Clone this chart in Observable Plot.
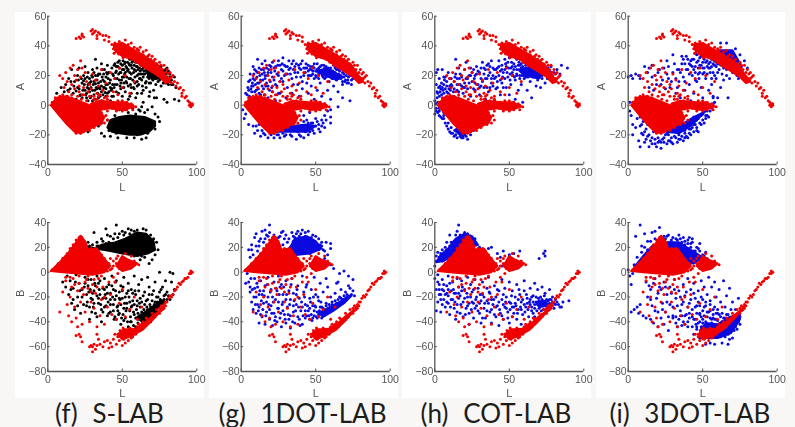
<!DOCTYPE html>
<html><head><meta charset="utf-8">
<script src="https://cdn.jsdelivr.net/npm/d3@7"></script>
<script src="https://cdn.jsdelivr.net/npm/@observablehq/plot@0.6"></script>
<style>
html,body{margin:0;padding:0;background:#f8f7f5;width:795px;height:427px;overflow:hidden}
.p{position:absolute;background:#fff;width:189px;top:12px;height:386px}
svg{position:absolute;background:transparent!important;filter:blur(.3px)}
.c{position:absolute;top:400px;height:27px;font:26px/27px Lato,sans-serif;word-spacing:8px;color:#1c1c1c;white-space:pre;transform:translateX(-50%)}
</style></head><body>
<div id="root"></div>
<script>
// Readings of the reference, flat lists of L,value pairs.
const redAdots=[19,45,21,46,22,45,23,47,23,48,24,46,29,50,30,51,31,49,30,48,32,50,33,47,34,49,33,45,35,48,37,47,38,44,39,47,41,46,41,43,43,41,44,38,45,42,46,36,47,40,48,43,49,35,50,41,52,44,53,33,54,41,56,42,57,31,58,39,60,38,62,39,61,30,63,28,64,36,66,37,67,27,68,34,70,33,71,25,72,31,73,23,75,29,76,27,77,21,78,27,79,19,80,24,81,18,82,22,83,15,84,20,85,16,86,13,87,15,88,11,89,12,90,8,90,6,91,10,92,5,93,6,94,3,95,2,96,1,97,0,96,-1,97,1,95,0,
8,20,10,18,11,12,12,22,13,16,14,9,15,25,16,14,16,7,17,27,18,20,18,11,19,17,20,24,20,6,21,13,21,9,22,30,22,19,23,25,24,12,24,7,25,22,26,16,27,9,28,14,29,11,30,21,31,6,32,17,33,8,34,13,35,7,36,24,37,10,38,5,39,15,40,6,42,22,44,9,45,18,47,7,48,25,50,12,52,20,55,8,58,16,
3,2,5,5,8,6,10,7,13,6,16,5,19,3,22,-19,19,-19,24,-18,28,-17,31,-15,35,-13,38,-12,40,-10,39,-7,36,-5,34,-1,30,1,33,4,37,3,40,4,44,2,47,3,50,3,53,2,56,1,59,-1,57,-3,53,-3,50,-4,46,-4,43,-2,40,-4,35,-8,
44.5,35,46.5,39,47.5,34.5,48.5,37,49.5,41.5,50.5,32,51,38.5,52,35.5,53,39,54.5,36,55,33,56,37.5,57,34,58,36.5,59,33,59.5,29,60,35,61,37,62,33,62.5,27,63,31,64,34,64.5,29,65,32,66,30,66.5,25,67,33,68,29,69,31,69.5,24,70,28,71,30,72,26,73,28,74,25,74.5,21,75,24,76,22,77,24,78,18,79,22,80,16,81,21,82,18,83,19,
6.5,-3,9,2,11,-5,13.5,2,15,-9,17.5,1,20,-3,22.5,4,26,-12,29,-3,31.5,-7,26,3,28,6,23,7,31,4,34,6,38,0,41,2,44,-1,46,1,49,-1,51,1,52,-2,55,-1,57,0];
const redAblobs=[[2,0,6,5,12,6,18,4,23,2,28,0,33,-2,38,-8,36,-12,30,-15,22,-19,18,-18,12,-12,7,-6],[29,1,35,3,45,2,52,2,58,-1,52,-3,46,-3,42,-2,36,-3,31,-6],[44,41,50,42,55,39,62,35,68,31,74,27,78,21,82,16,79,15,75,19,69,23,64,26,57,31,50,33,45,37]];
const redBdots=[97,0,96,-1,95,-1,96,1,94,-4,93,-5,92,-5,91,-7,90,-8,89,-10,88,-9,87,-12,86,-14,85,-15,84,-18,83,-20,82,-19,81,-21,80,-24,79,-27,78,-26,77,-28,76,-31,75,-29,74,-33,73,-30,72,-36,70,-36,68,-40,66,-37,65,-44,63,-42,62,-47,60,-44,59,-50,57,-52,55,-45,54,-55,52,-57,51,-48,50,-59,48,-55,47,-52,46,-58,45,-50,44,-54,43,-60,42,-57,41,-61,40,-55,38,-56,37,-60,35,-58,34,-54,33,-59,32,-62,31,-58,30,-64,30,-60,29,-59,28,-60,33,-50,23,-56,22,-52,21,-50,19,-51,
8,-32,10,-16,12,-7,13,-26,14,-35,15,-20,16,-12,16,-40,17,-5,18,-28,19,-37,20,-15,20,-44,21,-9,22,-24,23,-42,24,-18,25,-32,26,-6,27,-13,28,-40,29,-24,30,-10,31,-29,32,-17,33,-44,34,-5,35,-35,36,-22,37,-12,38,-42,40,-28,42,-18,43,-34,45,-8,46,-38,48,-25,50,-14,52,-36,55,-30,58,-20,60,-38,63,-28,
35,4,39,7,44,5,46,11,48,3,47,13,42,11,40,1,44,-4,47,-1,58,9,61,6,56,13,52,15,3,2,5,4,7,7,10,11,13,15,15,19,17,22,19,26,21,28,22,29,23,28,24,25,26,21,29,19,32,19,34,17,36,14,38,11,41,7,43,3,
47,-50,48.5,-47,49,-52,50.5,-45,51,-54,52,-50,53,-47,54,-52,55,-49,56,-53,56.5,-46,57.5,-49,58,-46,59,-47,60,-48,61,-42,62,-44,63,-46,64,-40,66,-42,67,-38,69,-37,70,-33,71,-35,73,-34,75,-33,76,-27,77,-30,78,-29,79,-24,
12,-4,15,-4,18,-10,21,-3,23,-13,25,-8,27,-3,29,-16,31,-6,33,-12,36,-3,38,-20,41,-8,
27,3,31,8,35,12,39,4,46,7,49,10,51,5,53,8,55,5,50,12,48,6,44,9,42,2];
const redBblobs=[[2,1,8,8,14,16,19,24,22,29,25,25,27,18,33,19,37,12,42,5,38,0,30,-2,20,-1,10,0],[46,5,50,13,54,10,60,7,56,3,50,1],[47,-50,51,-46,58,-46,65,-41,72,-34,78,-28,75,-32,70,-39,64,-46,57,-51,50,-54]];

const blackAdots=[6,8,8,5,9,12,10,3,11,9,12,14,13,6,14,18,15,2,15,11,16,24,17,8,18,16,19,4,20,20,20,12,21,25,22,7,23,15,23,1,24,20,25,10,25,26,26,5,27,14,27,22,28,9,28,18,29,12,30,3,30,24,31,16,31,7,32,20,32,31,33,11,33,25,34,5,34,15,35,21,36,9,36,28,37,17,37,2,38,24,38,12,39,6,39,19,40,27,40,14,41,9,41,22,42,3,42,17,43,25,43,11,44,6,44,20,45,28,45,14,46,9,46,23,47,26,47,2,48,17,48,30,49,11,49,22,50,6,50,27,51,15,51,24,52,29,52,9,53,19,53,25,54,4,54,13,55,31,55,22,56,8,56,27,57,17,57,-1,58,24,58,11,59,29,59,5,60,20,60,26,61,14,61,-3,62,28,62,23,63,8,63,17,64,25,64,2,65,21,65,-5,66,27,66,12,67,19,67,24,68,6,68,22,69,26,69,15,70,-1,70,20,71,24,71,10,72,18,72,27,73,22,73,5,74,16,74,25,75,21,76,13,76,26,77,18,78,23,78,4,79,15,80,19,80,25,81,14,82,21,83,17,84,14,85,19,86,12,88,3,85,4,80,2,38,-21,42,-21,47,-22,53,-22,58,-22,63,-23,66,-22,72,-16,75,-11,34,-14,32,-11,30,-7,27,-18,24,-3];
const blackA2=[21,11,23,5,24.5,14,25,18,26,8,26.5,12,27,3,28,15,29,6,29.5,20,30,10,30.5,14,31,22,32,4,32.5,12,33,17,33.5,8,34,21,35,11,35.5,16,36,3,36.5,19,37,7,37.5,12,38,16,39,14,39.5,22,40,8,40.5,18,42,12,43,6,43.5,21,44.5,27,45,18,46,26,46.5,14,47,29,47.5,21,48,25,48.5,13,49,28,49.5,17,50,24,50.5,30,51,19,51.5,28,52,22,52.5,26,53,15,53.5,29,54,24,54.5,18,55,27,55.5,14,56,21,56.5,25,57,30,57.5,12,58,27,58.5,19,59,23,60,16,60.5,29,61,21,61.5,25,62,18,63,24,63.5,13,64,21,65,26,66,16,66.5,22,67,27,68,18,68.5,25,69,21,70,24,70.5,17,71,27,72,21,72.5,14,73,25,74,20,75,17,75.5,24,76,20,77,23,77.5,15,78,20,79,24,79.5,18,80,22,81,17,82,16,83,14,
44,-11,46,-19,50,-9,52,-18,56,-8,60,-20,62,-4,67,-19,45,-7,48,-3,52,-3,57,-2,63,-1,67,-3,72,-6,74,-8,41,-17,36,-19,40,-10,36,-12];
const blackA3=[13.5,10,15.5,16,17.5,13,19,9.5,20.5,17,21.5,6.5,22.5,18,23.5,10,24,16.5,25.5,7,26.5,19,27.5,11,28.5,5,29,16,30,19,31.5,10,32,14.5,33.5,20,34.5,12,35,6,36,13,36.5,24,37.5,21,38.5,8.5,39,11,40,21,41.5,15,42.5,10,43.5,14,44.5,12,45.5,22,46.5,18,47.5,8,48.5,22,49,15,50,19,51,12,51.5,21,52.5,16,53.5,23,54.5,28,55.5,18,56,12,56.5,29,57.5,22,58.5,15,59.5,26,60,13,60.5,24,61.5,18,62.5,21,63,27,64,19,64.5,23,65.5,15,66,24,66.5,29,67.5,21,68,15,69,24,70,18,71,21,72,25,73,18,74,22,75,26,76,23,77,20,78,17,79,21,80,15,81,23,82,19,68.5,9,71.5,5,64,10,60,8,55,6,
46,-13,49,-15,53,-11,58,-14,61,-10,65,-13,70,-12,47,-9,54,-5,59,-6];
const blackAblobs=[[42,-10,48,-8,55,-7,65,-8,72,-11,72,-14,68,-18,62,-20,55,-20,48,-19,43,-18,40,-15],[66,23,74,23,80,19,76,18,68,19]];
const blackBdots=[25,22,27,24,28,21,31,32,33,24,36,27,39,35,40,30,42,29,44,27,46,38,45,31,48,31,50,33,52,32,54,35,56,34,58,33,60,34,64,35,66,34,69,30,71,27,73,24,74,18,72,14,70,10,68,7,65,12,62,10,
10,-8,12,-12,13,-3,14,-18,15,-7,16,-25,17,-13,18,-30,19,-2,20,-20,21,-9,22,-33,23,-14,24,-26,25,-4,26,-18,27,-11,28,-28,28,-38,29,-6,30,-22,31,-15,32,-33,33,-3,34,-25,34,-9,35,-18,36,-40,37,-13,38,-28,38,-5,39,-21,40,-35,41,-10,42,-17,42,-26,43,-3,44,-31,44,-14,45,-22,46,-38,46,-7,47,-27,48,-16,48,-33,49,-11,49,-42,50,-21,51,-29,51,-4,52,-37,53,-17,53,-25,54,-9,54,-44,55,-31,56,-14,56,-40,57,-23,58,-3,58,-34,59,-18,59,-44,60,-27,61,-10,61,-38,62,-21,63,-32,63,-6,64,-41,65,-16,65,-26,66,-36,67,-4,67,-22,68,-12,68,-32,69,-40,70,-18,70,-28,71,-34,72,-8,72,-24,73,-30,74,-20,75,0,75,-16,75,-27,76,-23,77,-12,78,-19,78,-25,79,-7,80,-16,80,-22,82,0,83,-8,84,-1,85,-14,84,-18,82,-22];
const blackB2=[24.5,-12,26.5,-24,27.5,-16,29,-21,30.5,-28,31.5,-9,33,-19,34.5,-14,35.5,-26,37,-32,38.5,-18,39.5,-12,40.5,-24,42,-32,43.5,-20,44.5,-38,45.5,-15,46.5,-28,47.5,-34,48.5,-22,49.5,-37,50.5,-12,51.5,-25,52.5,-31,53.5,-40,54.5,-20,55.5,-36,56.5,-27,57.5,-43,58.5,-15,59.5,-30,60.5,-41,61.5,-25,62.5,-35,63.5,-44,64.5,-30,65.5,-38,66.5,-28,67.5,-35,68.5,-26,69.5,-35,70.5,-30,71.5,-26,72.5,-32,73.5,-24,74.5,-28,75.5,-22,76.5,-25,77.5,-23,
27,19,30,22,34,21,37,25,38,20,41,24,43,19,47,28,49,25,51,30,53,27,55,31,57,30,59,28,61,31,63,29,65,29,67,27,69,26,71,22,63,13,58,13,53,15,47,17,42,18,35,19,30,18];
const blackB3=[15.5,-14,17,-22,18.5,-8,20,-27,21.5,-15,23,-20,25,-9,26,-27,27,-6,28.5,-14,29.5,-32,30,-17,31,-25,32,-11,33,-36,34,-21,35,-7,36,-30,37,-21,38,-14,39,-27,40,-17,41,-33,42,-22,43,-11,44,-26,45,-36,45.5,-8,46,-19,47,-31,48,-21,49,-26,50,-15,50.5,-34,51,-39,52,-20,53,-29,54,-15,55,-24,55.5,-40,56,-28,57,-17,57.5,-32,58,-26,59,-37,60,-23,60.5,-33,61,-15,62,-28,63,-24,63.5,-38,64,-19,65,-33,66,-23,66.5,-41,67,-30,68,-18,69,-28,70,-23,70.5,-36,71,-15,72,-29,73,-20,74,-32,75,-24,76,-14,78,-22,79,-18,81,-19,
50,23,55,26,58,22,62,24,64,19,67,22,69,18,56,17,44,21,39,23,33,21];
const blackBblobs=[[26,21,32,19,36,22,45,24,52,27,60,32,66,31,71,25,72,18,67,15,60,13,50,15,42,17,32,19,26,19],[60,-36,68,-30,76,-23,78,-24,71,-33,64,-41]];

const blueGAdots=[3,8,4,2,5,16,5,10,6,21,7,13,7,4,8,26,8,18,9,9,10,23,10,1,11,31,12,15,12,25,13,7,14,21,14,28,15,11,16,30,16,18,17,25,18,5,18,13,19,27,20,22,21,29,21,9,22,17,23,3,23,26,24,13,25,30,25,20,26,8,27,24,28,16,28,32,29,27,30,5,30,21,31,12,32,30,33,25,34,18,34,8,35,30,36,22,36,2,37,28,38,14,39,25,39,6,40,19,41,30,41,11,42,25,43,2,43,22,44,15,45,27,45,8,46,20,47,24,47,13,48,26,49,4,49,18,50,23,51,28,51,10,52,21,53,15,54,27,54,6,55,23,56,18,56,1,57,26,58,22,58,10,59,16,60,25,60,4,61,20,62,27,62,13,63,22,64,17,65,24,65,9,66,19,67,25,68,14,69,21,70,17,71,23,72,15,73,20,74,14,75,18,73,3,68,5,65,-1,60,-3,
1,-3,2,-9,3,-6,5,-13,8,-14,9,-19,11,-17,13,-21,16,-20,18,-22,22,-22,26,-22,29,-21,33,-20,37,-23,40,-21,45,-20,48,-17,50,-14,53,-18,56,-15,60,-12,60,-8,58,-4,46,-5,42,-11];
const blueGA2=[5.5,6,6.5,11,7.5,15,8.5,21,9.5,14,10.5,19,11.5,11,12.5,20,13.5,24,14.5,17,15.5,22,16.5,13,17.5,20,18.5,24,19.5,16,20.5,12,22.5,23,24.5,27,26,16,27.5,28,29,20,31,26,33,21,35,24,37,19,38.5,27,40,24,42,20,43.5,28,45,23,46.5,26,48,21,49,25,50.5,19,52,25,53,22,54.5,20,55.5,27,57,22,58.5,25,60,21,61.5,23,63,19,64,24,65.5,21,67,18,68,22,69.5,16,70.5,20,71.5,17,72.5,22,74,17,
12,-13,14,-17,17,-15,20,-20,24,-20,28,-19,31,-16,35,-15,38,-18,40,-14,43,-18,46,-15,48,-12,50,-9,52,-13,54,-10,56,-7,44,-10,33,-12,36,-9,26,-17];
const blueGA3=[4,7,4.5,12,6,17,7,9,8,13,9,17,9,24,10,10,11,15,11,22,12,8,13,17,14,13,15,24,15.5,7,16,20,17,15,18,22,19,10,20,26,21,19,22,25,23,14,24,21,25,8,26,27,27,18,28,23,30,26,31,21,32,24,34,28,35,14,36,26,38,22,40,28,41,16,43,25,44,25,45,20,46,24,47,20,48,23,49,28,50,20,51,24,52,18,53,26,54,22,55,19,56,25,57,19,58,24,59,20,60,23,61,18,62,22,63,25,64,20,65,18,66,23,67,20,68,16,69,19,70,23,71,15,72,19,
10,-14,15,-19,19,-17,22,-19,25,-20,27,-16,30,-20,32,-17,34,-21,36,-17,39,-20,41,-17,42,-22,44,-15,46,-18,47,-12,49,-19,51,-11,52,-16,54,-14,55,-12,57,-10,42,-7,45,-12];
const blueGAblobs=[[24,-18,34,-18,44,-18,50,-14,44,-13,34,-14],[50,23,58,25,68,19,64,17,54,21]];
const blueGBdots=[3,-9,5,18,7,22,9,28,10,31,12,25,14,33,16,34,17,30,19,38,22,30,25,28,27,32,30,30,32,27,34,32,36,28,38,33,41,34,43,32,45,33,48,30,50,29,52,27,54,24,57,24,60,23,60,19,58,14,56,11,60,6,
4,-1,5,-8,6,-16,7,-24,8,-30,6,-12,9,-5,10,-20,10,-33,11,-12,12,-28,12,-41,13,-7,14,-18,14,-36,15,-25,16,-11,16,-42,17,-32,18,-20,18,-4,19,-38,20,-14,20,-27,21,-43,22,-8,22,-33,23,-22,24,-40,24,-15,25,-3,25,-29,26,-37,27,-10,27,-44,28,-24,28,-18,29,-34,30,-41,30,-7,31,-28,32,-15,32,-38,33,-45,33,-22,34,-5,35,-32,35,-17,36,-41,37,-26,38,-11,38,-36,39,-21,40,-31,41,-3,41,-42,42,-16,43,-26,43,-37,44,-10,45,-31,46,-21,46,-38,47,-14,48,-27,49,-35,49,-4,50,-18,51,-32,52,-23,53,-9,54,-37,54,-28,55,-16,56,-34,57,-5,57,-25,58,-12,59,-31,60,-20,61,-26,62,3,63,-17,64,-25,65,-8,66,-20,67,-14,68,-22,69,1,70,-16,71,-20,72,-3,73,-13,74,-18,75,-15,76,-19,75,-6,72,-11,64,-9,66,-1];
const blueGB2=[6,12,8,14,10,21,11,17,13,27,15,24,18,29,24,24,28,22,29,27,31,24,33,20,35,25,37,22,39,29,40,24,42,27,44,21,46,26,47,22,49,24,51,20,53,22,55,18,46,15,42,15,37,14,
9,-13,11,-26,12,-18,13,-34,15,-15,17,-24,19,-30,21,-20,23,-36,25,-24,26,-12,28,-31,30,-22,33,-35,35,-27,37,-18,39,-38,41,-28,43,-31,44,-35,46,-29,47,-34,48,-37,49,-31,50,-28,51,-37,52,-34,53,-28,54,-33,55,-29,56,-31,57,-27,58,-32,59,-26,60,-29,61,-24,62,-29,63,-23,64,-28,65,-22,66,-25,67,-21,68,-24,69,-19,70,-22,71,-18,72,-20];
const blueGB3=[6.5,-5,7.5,-14,8.5,-20,9.5,-26,10.5,-9,11.5,-31,12.5,-15,13.5,-23,14.5,-30,15.5,-19,16.5,-35,17.5,-10,18.5,-26,19.5,-16,20.5,-33,21.5,-24,22.5,-39,23.5,-13,24.5,-29,25.5,-18,26.5,-33,27.5,-26,28.5,-12,29.5,-38,30.5,-18,31.5,-34,32.5,-26,33.5,-10,34.5,-40,35.5,-23,36.5,-31,37.5,-14,38.5,-28,39.5,-43,40.5,-24,41.5,-35,42.5,-20,43.5,-12,44.5,-27,45.5,-35,46.5,-24,47.5,-39,48.5,-20,49.5,-27,50.5,-36,51.5,-20,52.5,-31,53.5,-24,
7,18,12,21,16,27,19,32,26,29,28,33,35,29,37,31,40,31,43,29,45,26,47,28,49,20,52,18,54,21,56,17];
const blueGBblobs=[[30,14,36,27,44,29,50,25,54,19,46,15,38,14],[52,-33,58,-29,66,-24,72,-19,74,-19,69,-25,62,-31,55,-36]];
const blueHAdots=[0,-6,0,3,1,22,1,14,2,24,2,8,3,-7,3,18,4,11,5,24,6,14,7,19,7,5,8,9,9,22,10,13,11,18,12,6,13,16,14,31,14,21,15,10,16,25,17,14,18,19,19,8,20,15,20,24,21,29,22,11,23,20,24,6,24,25,25,16,26,24,27,10,27,20,28,26,29,14,30,7,30,22,31,18,32,29,33,12,34,24,34,4,35,18,36,28,36,9,37,22,38,15,38,30,39,25,40,3,40,18,41,11,42,25,43,30,43,20,44,7,45,15,45,27,46,22,46,1,47,31,48,12,48,26,49,19,50,32,50,7,51,25,51,14,52,22,53,28,54,17,54,4,55,31,55,24,56,10,57,20,57,27,58,14,59,23,59,2,60,29,60,18,61,25,62,10,62,22,63,27,64,16,65,23,65,5,66,19,67,26,68,13,68,22,69,17,70,25,71,12,72,20,73,24,74,15,75,21,76,25,77,19,78,26,80,22,82,24,85,27,84,21,89,25,
1,-2,3,-4,4,-8,7,-12,9,-16,10,-18,13,-21,15,-22,18,-22,22,-23,20,-20];
const blueHA2=[1.5,5,2.5,12,3.5,9,4.5,15,5.5,10,6.5,17,8,13,9.5,11,11,14,13,11,15,18,17,21,19,12,22,18,25,22,27,15,29,23,31,13,33,21,35,27,37,12,39,20,41,24,42,16,44,23,45.5,19,47,24,49,29,50.5,21,52,26,53.5,19,55,20,56.5,29,58,25,59.5,20,61,27,62.5,24,64,28,65.5,26,67,22,68.5,25,70,19,71.5,24,72.5,26,74,22,75.5,18,77,23,79,20,81,21,
2,-5,5,-9,6,-5,8,-14,11,-15,12,-19,14,-17,16,-19,19,-19,21,-21,24,-20,26,-17];
const blueHA3=[0.5,1,1,-4,1.5,9,2,2,3,6,3.5,13,4,-1,4.5,7,5,12,6,8,6,19,7,11,8,16,9,8,10,18,10.5,10,11.5,13,12.5,9,13.5,19,15,14,16,9,16.5,18,18,13,20,12,21,18,23,15,24,20,26,11,26.5,18,28,21,30,12,31,25,32,16,33,25,34,18,35,12,36,20,37,26,38,18,39,13,40,24,41,19,42,12,43,26,44,17,45,24,46,12,47,18,47.5,28,48.5,22,49.5,25,50.5,17,51.5,29,52.5,20,53,24,54,26,55,21,56,27,57,18,58,28,58.5,20,59,26,60,22,61,19,61.5,28,62.5,19,63,24,64,22,65,27,66,22,67,19,68,24,69,20,70,22,72,18,73,21,75,24,76,20,78,22,
3,-2,6,-9,9,-12,11,-19,14,-20,17,-21,19,-22,6,-7];
const blueHAblobs=[[13,-17,19,-21,21,-18,16,-15],[56,24,66,26,74,23,70,18,60,20]];
const blueHBdots=[0,5,1,13,2,16,5,18,8,24,10,30,15,33,16,38,20,32,27,27,30,20,33,16,36,19,38,20,42,15,44,12,46,17,50,14,53,15,57,17,48,8,45,5,70,11,73,15,74,17,74,13,
0,-5,1,-14,1,-31,2,-2,2,-24,3,-10,3,-18,4,-32,5,-14,5,-6,6,-22,7,-28,8,-11,8,-17,9,-3,9,-25,10,-34,11,-15,12,-8,12,-22,13,-29,14,-17,14,-38,15,-5,15,-26,16,-12,17,-33,17,-19,18,-7,19,-24,19,-36,20,-14,21,-29,22,-4,22,-20,23,-42,23,-33,24,-10,25,-24,25,-16,26,-37,27,-6,27,-29,28,-20,29,-13,30,-33,30,-25,31,-41,32,-8,32,-18,33,-29,34,-37,35,-13,35,-23,36,-4,37,-32,37,-17,38,-41,39,-26,40,-11,40,-34,41,-20,42,-27,43,-43,43,-15,44,-33,45,-6,45,-22,46,-38,47,-28,47,-13,48,-20,49,-32,50,-8,50,-41,51,-25,52,-15,52,-36,53,-28,54,-20,55,-10,55,-38,56,-30,57,-18,58,-42,58,-24,59,-34,60,-15,60,-7,61,-28,62,-21,63,-36,64,-13,64,-26,65,-31,66,-19,67,-9,67,-36,68,-24,69,-14,70,-29,71,-20,72,-34,72,-12,73,-25,74,-17,75,-30,76,-23,77,-14,78,-26,79,-20,80,-29,81,-22,83,-26,84,-28,86,-24,85,-28,90,-23];
const blueHB2=[1,9,3,12,4,15,6,14,7,20,9,18,11,24,13,25,14,30,17,30,19,28,22,31,24,29,26,26,28,22,30,17,34,14,
4,-18,6,-15,9,-19,11,-22,13,-17,16,-21,18,-15,20,-21,22,-27,24,-20,26,-25,28,-27,31,-23,33,-20,36,-25,38,-22,41,-28,43,-24,46,-26,48,-29,50,-24,52,-28,54,-25,56,-22,58,-30,60,-26,62,-25,64,-22,65,-28,66,-24,67,-29,68,-20,69,-26,70,-23,71,-27,72,-22,73,-30,74,-24,75,-25,76,-27,77,-22,78,-22,80,-25,82,-24];
const blueHB3=[2,-8,3,-14,4,-22,5,-26,6,-10,7,-18,8,-24,9,-14,10,-9,10.5,-28,12.5,-14,13.5,-24,15,-32,16,-17,17.5,-26,18.5,-12,20.5,-34,21.5,-17,23,-25,24.5,-30,26,-14,27.5,-22,29,-31,30.5,-18,32,-37,33.5,-25,35,-31,36.5,-16,38,-30,39.5,-22,41,-36,42,-14,43.5,-30,45,-35,46,-18,47.5,-24,49,-37,50.5,-30,51.5,-19,53,-33,54.5,-27,55.5,-33,56.5,-14,57.5,-28,59,-22,60.5,-32,61.5,-18,62.5,-30,63.5,-24,65,-20,66,-33,67,-26,68.5,-31,69.5,-21,70.5,-25,71.5,-31,72.5,-27,73.5,-19,75,-22,76,-29,77,-25,79,-24,81,-26,
5,9,7,14,8,18,10,21,12,24,13,22,16,26,18,24,20,27,22,27,24,24];
const blueHBblobs=[[1,8,4,14,9,19,14,27,20,31,25,29,29,22,24,20,15,15,6,9],[68,-24,74,-23,76,-27,70,-28]];
const blueIAdots=[0,19,2,20,3,18,5,21,7,20,8,18,11,26,13,22,14,25,16,27,18,20,20,22,22,14,24,25,26,30,27,18,28,12,30,34,30,22,32,8,33,24,34,16,35,5,36,28,37,19,38,10,39,33,40,24,41,14,42,3,42,30,43,20,44,8,45,35,45,26,46,16,47,30,48,22,49,12,50,25,50,5,51,31,52,18,53,26,54,10,55,22,56,14,57,6,58,20,60,28,62,12,64,17,66,20,67,5,70,22,72,24,74,18,
1,2,1,-4,2,-7,3,-13,3,-20,5,-15,6,-9,7,-24,8,-14,8,-28,9,-19,10,-11,11,-25,12,-16,13,-21,14,-28,15,-13,16,-26,17,-18,18,-23,19,-28,20,-22,22,-29,22,-25,24,-22,26,-26,27,-20,28,-24,30,-26,31,-21,33,-25,35,-23,37,-24,38,-19,40,-22,42,-20,44,-18,46,-15,48,-12,50,-10,52,-7,55,-4,58,2,60,5,57,5,
62,42,66,42,55,34,50,38,46,36,63,36,72,38,75,34,78,30,80,25,73,20,68,18,60,22,56,18];
const blueIA2=[34,24,36,33,38,28,40,31,41,21,42,27,43,31,44,24,45,17,46,29,47,25,47.5,18,48,32,49,27,50,21,51,25,52,29,53,21,54,25,55,29,56,26,57,22,58,27,59,18,61,24,62,28,63,21,64,25,66,24,8,-8,10,-20,13,-13,15,-24,18,-17,21,-24,24,-25,26,-19,29,-22,31,-17,34,-20,36,-16,38,-22,40,-14,42,-16,44,-13,46,-10,47,-18,49,-7,51,-12,53,-4,54,-8,56,-2,44,-8,41,-19,34,-14,29,-18];
const blueIA3=[14,12,16,19,17,10,19,14,21,24,23,17,25,11,26,21,27,26,29,16,31,28,32,18,33,12,35,22,37,31,38,16,39,24,41,28,43,26,44,31,45,22,46,34,47,21,48,27,49,33,50,29,51,22,52,33,53,30,54,28,55,25,56,31,57,28,58,33,59,26,60,31,61,28,62,32,63,28,64,33,65,30,66,26,67,30,68,28,70,27,71,30,72,27,73,30,75,28,76,26,
9,-13,11,-18,12,-23,14,-20,16,-22,18,-26,20,-25,23,-23,25,-20,27,-24,29,-25,32,-22,34,-23,36,-21,38,-17,39,-21,41,-16,43,-15,45,-13,46,-17,47,-9,49,-13,50,-6,52,-9,53,-7,55,-1,57,1];
const blueIAblobs=[[52,34,62,37,70,37,74,30,72,26,66,25,60,28],[26,-18,34,-19,42,-14,48,-8,52,-4,44,-8,36,-13]];
const blueIBdots=[0,2,1,-3,2,-10,3,-1,4,6,5,29,8,38,9,21,11,31,13,25,16,32,18,33,21,36,24,29,27,30,30,28,34,30,37,28,40,26,43,27,46,20,48,23,52,16,
2,-32,4,-30,6,-28,7,-33,8,-26,10,-35,12,-37,14,-11,15,-38,15,-22,17,-41,18,-5,18,-31,20,-17,20,-44,21,-12,22,-37,23,-25,24,-8,24,-42,25,-32,26,-18,27,-47,28,-12,28,-26,30,-37,31,-6,32,-21,33,-44,34,-15,35,-31,36,-26,37,-10,37,-40,38,-19,39,-34,40,-5,40,-44,41,-25,42,-14,43,-30,44,-38,44,-9,45,-21,46,-33,46,-44,47,-15,48,-27,48,-40,49,-7,49,-36,50,-22,50,-31,51,-12,52,-27,53,-36,53,-18,54,-4,55,-31,55,-23,56,-12,57,-37,58,-28,58,-8,59,-20,60,-33,60,-39,61,-14,62,-24,63,-33,64,-7,65,-28,65,-37,66,-19,67,-58,67,-34,68,-13,69,-30,70,-53,70,-24,71,-40,72,-30,73,-46,74,-36,75,-42,76,-30,74,-21,63,-57,58,-58,55,-57,52,-58,48,-53,44,-50,46,-46];
const blueIB2=[6,12,9,16,11,20,13,18,15,25,18,27,25,27,28,24,31,22,33,26,35,23,38,22,40,19,42,23,44,17,46,14,48,17,50,14,41,28,36,24,
30,-35,32,-41,34,-38,36,-43,38,-35,40,-40,41,-33,43,-44,45,-38,46,-27,47,-41,48,-33,49,-44,50,-38,51,-28,52,-40,53,-32,54,-44,55,-37,56,-41,57,-34,58,-43,59,-38,60,-44,61,-34,62,-41,63,-45,64,-37,65,-42,66,-34,67,-50,68,-39,69,-47,70,-37,71,-47,72,-44,73,-37,74,-40,75,-36,68,-54,65,-52,62,-52,60,-52];
const blueIB3=[12,-8,13,-20,15,-14,16,-27,17,-9,19,-21,20,-32,22,-14,23,-30,25,-12,26,-24,27,-36,29,-17,30,-28,31,-14,32,-36,33,-27,35,-20,36,-35,37,-24,38,-42,39,-16,40,-28,41,-37,42,-22,43,-36,44,-17,45,-28,45.5,-42,47,-24,48,-34,49,-20,50,-41,51,-35,52,-24,53,-42,54,-32,55,-26,56,-38,57,-30,58,-38,59,-33,60,-30,61,-42,62,-36,63,-40,
20,26,22,25,26,29,29,26,32,27,35,27,38,25,40,23,42,20,43,24,45,17,47,19,49,12,51,13,53,11];
const blueIBblobs=[[4,4,10,13,16,21,24,24,34,24,42,18,50,12,44,7,30,7],[48,-47,52,-41,60,-42,68,-36,75,-34,75,-38,69,-49,60,-53,52,-53]];

const RED="#f00000", BLACK="#000", BLUE="#0a0ae0";
const lefts=[47.3,240.7,434.3,627.7], whites=[15,209,402,596];
const captions=["(f) S-LAB","(g) 1DOT-LAB","(h) COT-LAB","(i) 3DOT-LAB"], capX=[109.5,302.5,496,690];
const panels=[
 {col:0,name:"A",c:BLACK,d:[...blackAdots,...blackA2,...blackA3],b:blackAblobs},{col:1,name:"A",c:BLUE,d:[...blueGAdots,...blueGA2,...blueGA3],b:blueGAblobs},
 {col:2,name:"A",c:BLUE,d:[...blueHAdots,...blueHA2,...blueHA3],b:blueHAblobs},{col:3,name:"A",c:BLUE,d:[...blueIAdots,...blueIA2,...blueIA3],b:blueIAblobs},
 {col:0,name:"B",c:BLACK,d:[...blackBdots,...blackB2,...blackB3],b:blackBblobs},{col:1,name:"B",c:BLUE,d:[...blueGBdots,...blueGB2,...blueGB3],b:blueGBblobs},
 {col:2,name:"B",c:BLUE,d:[...blueHBdots,...blueHB2,...blueHB3],b:blueHBblobs},{col:3,name:"B",c:BLUE,d:[...blueIBdots,...blueIB2,...blueIB3],b:blueIBblobs}];
const pairs=f=>d3.range(0,f.length,2).map(i=>[f[i],f[i+1]]);
const X=d=>d[0],Y=d=>d[1];
const root=document.getElementById("root");
whites.forEach(x=>{const w=document.createElement("div");w.className="p";w.style.left=x+"px";root.append(w)});
panels.forEach(p=>{
  const isA=p.name==="A", W=whites[p.col], top=isA?0:205;
  const redD=isA?redAdots:redBdots, redB=isA?redAblobs:redBblobs;
  const blob=(f,c)=>Plot.line(pairs(f),{x:X,y:Y,fill:c,stroke:c,strokeWidth:2,curve:"linear-closed"});
  const svg=Plot.plot({
    width:189,height:isA?199:195,
    marginLeft:lefts[p.col]-W,marginRight:189-(lefts[p.col]-W)-149,
    marginTop:isA?15.7:17,marginBottom:isA?35:29,
    style:{background:"transparent",overflow:"visible"},
    x:{domain:[0,100]},
    y:{domain:isA?[-40,60]:[-80,40]},
    marks:[
      ...p.b.map(f=>blob(f,p.c)),
      Plot.dot(pairs(p.d),{x:X,y:Y,r:1.5,fill:p.c}),
      ...redB.map(f=>blob(f,RED)),
      Plot.dot(pairs(redD),{x:X,y:Y,r:1.5,fill:RED}),
      Plot.axisX({ticks:[0,50,100],tickSize:-2.5,tickPadding:7,stroke:"#555",fontSize:10.5,fill:"#555",fontFamily:"Liberation Sans",label:null}),
      Plot.axisY({ticks:d3.range(isA?-40:-80,(isA?60:40)+1,20),tickSize:-2.5,tickPadding:4,stroke:"#555",fontSize:10.5,fill:"#555",fontFamily:"Liberation Sans",label:null}),
      Plot.ruleX([0],{stroke:"#555",strokeWidth:1.3}),
      Plot.ruleY([isA?-40:-80],{stroke:"#555",strokeWidth:1.3}),
      Plot.text(["L"],{frameAnchor:"bottom",dy:isA?26:25,fontSize:11,fill:"#555",fontFamily:"Liberation Sans"}),
      Plot.text([p.name],{frameAnchor:"left",dx:-27,rotate:-90,fontSize:11,fill:"#555",fontFamily:"Liberation Sans"})
    ]
  });
  svg.style.left=W+"px";svg.style.top=top+"px";
  root.append(svg);
});
captions.forEach((t,i)=>{const c=document.createElement("div");c.className="c";c.textContent=t;c.style.left=capX[i]+"px";root.append(c)});
</script>
</body></html>
